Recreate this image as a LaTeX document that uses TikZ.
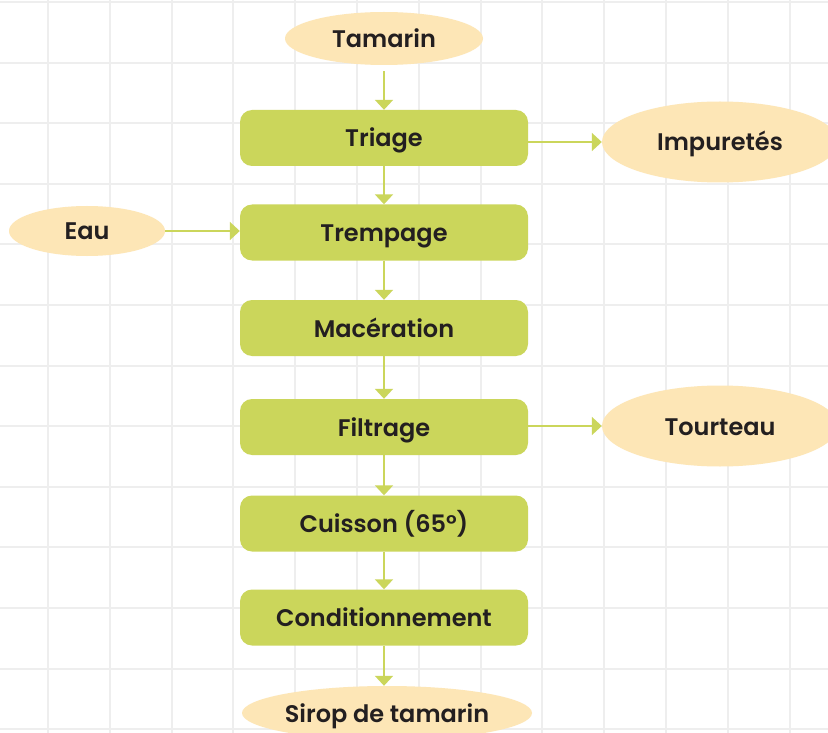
\documentclass[tikz,border=0pt]{standalone}
\usepackage{fontspec}
\setmainfont{Poppins}[BoldFont={Poppins SemiBold}]
\usetikzlibrary{shapes.geometric,arrows.meta}
\definecolor{gridgray}{HTML}{EEEEEE}
\definecolor{stepgreen}{HTML}{CBD65B}
\definecolor{ioyellow}{HTML}{FDE6B6}
\definecolor{inkdark}{HTML}{231F20}
\tikzset{
  labeltext/.style={font=\fontsize{24}{28}\selectfont\bfseries, text=inkdark,
    text height=18pt, text depth=0pt},
  stepbox/.style={labeltext, rectangle, rounded corners=12pt, fill=stepgreen, draw=none,
    minimum width=288pt, minimum height=56pt, inner sep=0pt},
  iobubble/.style={labeltext, ellipse, fill=ioyellow, draw=none, inner sep=0pt},
  flow/.style={draw=stepgreen, line width=2pt,
    -{Triangle[width=18pt,length=10pt]}},
}
\begin{document}
\begin{tikzpicture}[x=1pt,y=-1pt]
  \useasboundingbox (0,0) rectangle (828,733);
  \clip (0,0) rectangle (828,733);
  \fill[white] (0,0) rectangle (828,733);
  % background grid
  \foreach \k in {0,...,12} {
    \draw[gridgray, line width=2pt] ({48+61.8*\k},0) -- ({48+61.8*\k},733);
    \draw[gridgray, line width=2pt] (0,{2+60.6*\k}) -- (828,{2+60.6*\k});
  }
  % process steps
  \node[stepbox] (triage) at (384,138) {Triage};
  \node[stepbox] (trempage) at (384,232.5) {Trempage};
  \node[stepbox] (maceration) at (384,328) {Macération};
  \node[stepbox] (filtrage) at (384,427) {Filtrage};
  \node[stepbox] (cuisson) at (384,523.5) {Cuisson (65°)};
  \node[stepbox] (condition) at (384,617.5) {Conditionnement};
  % inputs and outputs
  \node[iobubble, minimum width=198pt, minimum height=53pt] (tamarin) at (384,38.5) {Tamarin};
  \node[iobubble, minimum width=156pt, minimum height=50pt] (eau) at (87,231) {Eau};
  \node[iobubble, minimum width=236pt, minimum height=81pt] (impuretes) at (720,142) {Impuretés};
  \node[iobubble, minimum width=236pt, minimum height=81pt] (tourteau) at (720,426) {Tourteau};
  \node[iobubble, minimum width=290pt, minimum height=54pt] (sirop) at (387,713) {Sirop de tamarin};
  % connectors
  \draw[flow, shorten <=6pt] (tamarin) -- (triage);
  \draw[flow] (triage) -- (trempage);
  \draw[flow] (trempage) -- (maceration);
  \draw[flow] (maceration) -- (filtrage);
  \draw[flow] (filtrage) -- (cuisson);
  \draw[flow] (cuisson) -- (condition);
  \draw[flow] (condition.south) -- (sirop.north -| condition.south);
  \draw[flow] (eau.east) -- (trempage.west |- eau.east);
  \draw[flow] (triage.east |- impuretes.west) -- (impuretes.west);
  \draw[flow] (filtrage.east |- tourteau.west) -- (tourteau.west);
\end{tikzpicture}
\end{document}
